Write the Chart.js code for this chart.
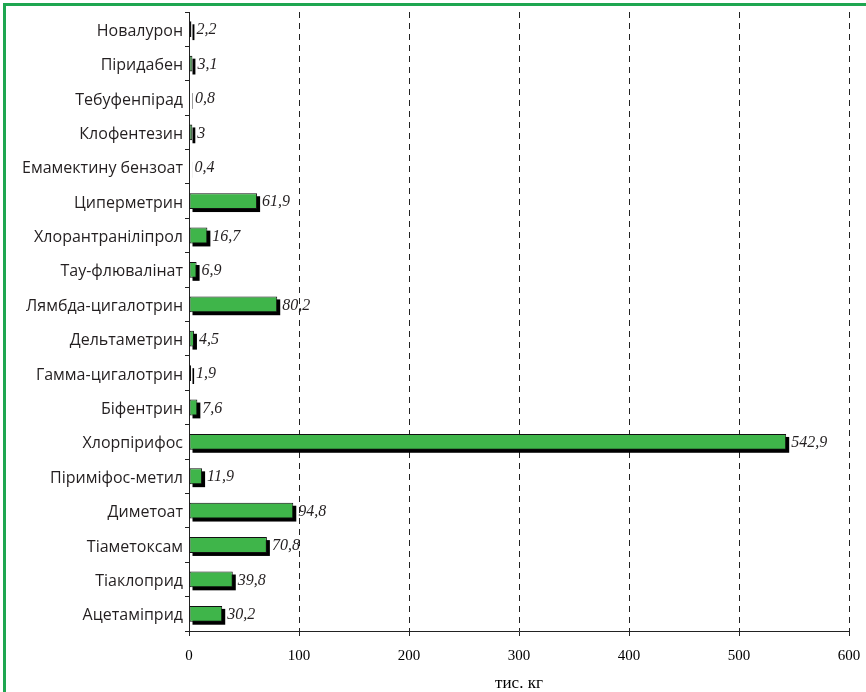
<!DOCTYPE html>
<html>
<head>
<meta charset="utf-8">
<script src="https://cdn.jsdelivr.net/npm/chart.js@4"></script>
<style>
  html, body { margin: 0; padding: 0; background: #fff; }
  .frame {
    position: absolute; left: 3px; top: 3px; width: 880px; height: 700px;
    border-top: 3px solid #1ea650; border-left: 3px solid #1ea650;
  }
  .wrap { position: absolute; left: 0; top: 0; width: 866px; height: 692px; }
</style>
</head>
<body>
<div class="frame"></div>
<div class="wrap"><canvas id="chart" width="866" height="692"></canvas></div>
<script>
// insecticides, top to bottom
const substances = [
  "Новалурон", "Піридабен", "Тебуфенпірад", "Клофентезин", "Емамектину бензоат",
  "Циперметрин", "Хлорантраніліпрол", "Тау-флювалінат", "Лямбда-цигалотрин",
  "Дельтаметрин", "Гамма-цигалотрин", "Біфентрин", "Хлорпірифос", "Піриміфос-метил",
  "Диметоат", "Тіаметоксам", "Тіаклоприд", "Ацетаміприд"
];
const amounts = [2.2, 3.1, 0.8, 3, 0.4, 61.9, 16.7, 6.9, 80.2, 4.5, 1.9, 7.6, 542.9, 11.9, 94.8, 70.8, 39.8, 30.2];
const xTicks = [0, 100, 200, 300, 400, 500, 600];
const xTitle = "тис. кг";

const fmt = v => String(v).replace(".", ",");

// black drop shadow behind each bar
const shadowPlugin = {
  id: "shadow",
  beforeDatasetsDraw(chart) {
    const ctx = chart.ctx;
    const meta = chart.getDatasetMeta(0);
    ctx.save();
    ctx.fillStyle = "#000";
    meta.data.forEach(bar => {
      const p = bar.getProps(["x", "y", "base", "height"], true);
      const left = Math.min(p.x, p.base);
      const w = Math.abs(p.x - p.base);
      ctx.fillRect(left + 3, p.y - p.height / 2 + 3, w, p.height);
    });
    ctx.restore();
  }
};

// value labels to the right of bars
const valuePlugin = {
  id: "values",
  afterDatasetsDraw(chart) {
    const ctx = chart.ctx;
    const meta = chart.getDatasetMeta(0);
    ctx.save();
    ctx.font = "italic 16px 'Liberation Serif'";
    ctx.fillStyle = "#231f20";
    ctx.textAlign = "left";
    ctx.textBaseline = "middle";
    meta.data.forEach((bar, i) => {
      const p = bar.getProps(["x", "y"], true);
      ctx.fillText(fmt(amounts[i]), p.x + 5, p.y + 1);
    });
    ctx.restore();
  }
};

new Chart(document.getElementById("chart"), {
  type: "bar",
  data: {
    labels: substances,
    datasets: [{
      data: amounts,
      backgroundColor: "#3fb54a",
      borderColor: "#111",
      borderWidth: 1,
      borderSkipped: false,
      barPercentage: 0.46,
      categoryPercentage: 1
    }]
  },
  options: {
    indexAxis: "y",
    responsive: false,
    animation: false,
    devicePixelRatio: 1,
    layout: { padding: { top: 12, right: 17, bottom: 0, left: 0 } },
    plugins: { legend: { display: false }, tooltip: { enabled: false } },
    scales: {
      x: {
        min: 0,
        max: 600,
        afterBuildTicks(scale) { scale.ticks = xTicks.map(v => ({ value: v })); },
        afterFit(scale) {
          scale.height = 61;
          scale.paddingLeft = 0;
          scale.paddingRight = 0;
        },
        grid: {
          color: "#222",
          lineWidth: 1,
          tickLength: 5,
          tickColor: "#222",
          tickBorderDash: []
        },
        border: { display: true, color: "#222", width: 1, dash: [6, 5] },
        ticks: {
          color: "#000",
          padding: 11,
          font: { family: "'Liberation Serif'", size: 15 },
          maxRotation: 0
        },
        title: {
          display: true,
          text: xTitle,
          color: "#000",
          font: { family: "'Liberation Serif'", size: 17, lineHeight: 1 },
          padding: { top: 0, bottom: 0 }
        }
      },
      y: {
        afterFit(scale) { scale.width = 189; },
        grid: {
          drawOnChartArea: false,
          tickLength: 4,
          tickColor: "#222",
          offset: true
        },
        border: { display: true, color: "#222", width: 1 },
        ticks: {
          color: "#231f20",
          padding: 2,
          labelOffset: 2,
          autoSkip: false,
          font: { family: "'Open Sans'", size: 16 }
        }
      }
    }
  },
  plugins: [shadowPlugin, valuePlugin]
});
</script>
</body>
</html>
